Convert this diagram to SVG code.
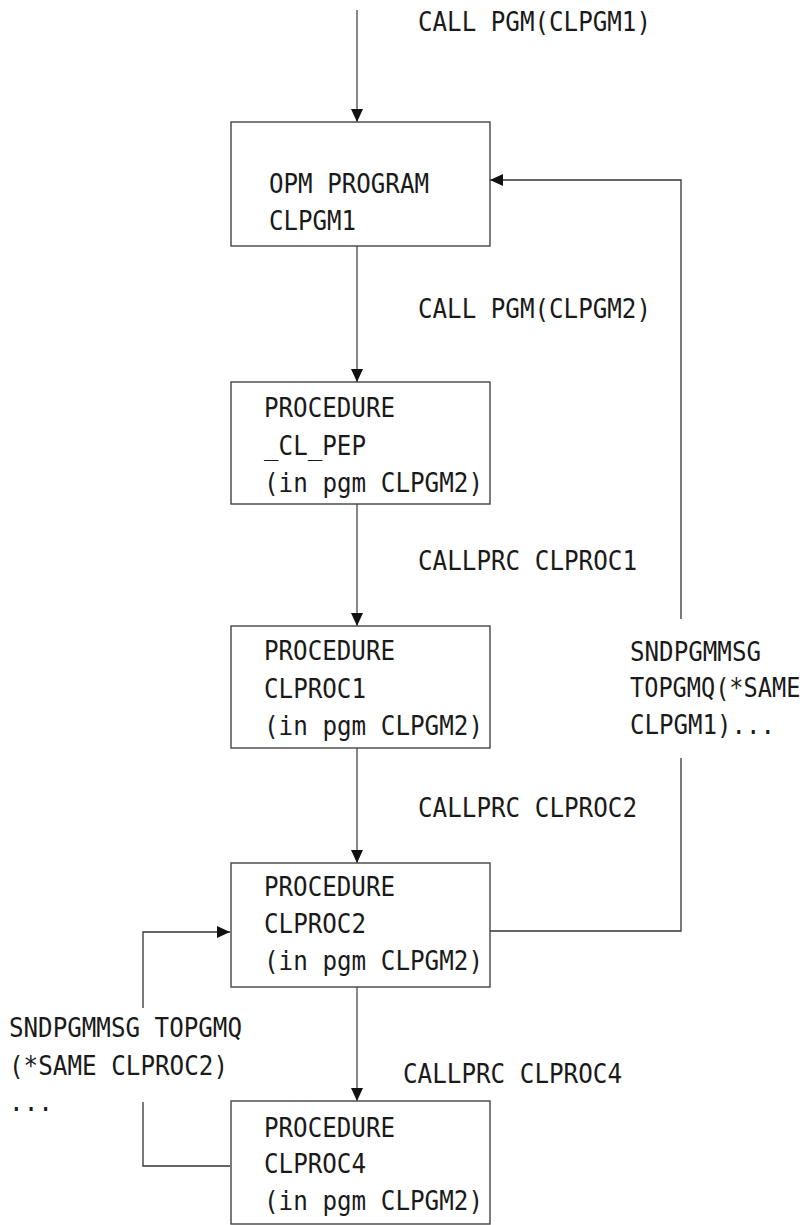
<svg xmlns="http://www.w3.org/2000/svg" width="809" height="1225" viewBox="0 0 809 1225">
<defs>
<marker id="ah" markerUnits="userSpaceOnUse" markerWidth="13" markerHeight="12" refX="13" refY="6" orient="auto">
<path d="M0,0 L13,6 L0,12 z" fill="#111"/>
</marker>
<style>
.box{fill:#fff;stroke:#444;stroke-width:1.4}
.t{font-family:"DejaVu Sans Mono","Liberation Mono",monospace;font-size:26.5px;fill:#1a1a1a}
.c{fill:none;stroke:#333;stroke-width:1.3}
.v{fill:none;stroke:#555;stroke-width:1.4}
</style>
</defs>
<rect width="809" height="1225" fill="#fff"/>
<g id="connectors">
<line class="v" x1="357" y1="10" x2="357" y2="122" marker-end="url(#ah)"/>
<line class="v" x1="357" y1="246" x2="357" y2="382" marker-end="url(#ah)"/>
<line class="v" x1="357" y1="504" x2="357" y2="626" marker-end="url(#ah)"/>
<line class="v" x1="357" y1="748" x2="357" y2="863" marker-end="url(#ah)"/>
<line class="v" x1="357" y1="987" x2="357" y2="1101" marker-end="url(#ah)"/>
<polyline class="c" points="490,931 681,931 681,758"/>
<polyline class="c" points="681,619 681,180 490,180" marker-end="url(#ah)"/>
<polyline class="c" points="230,1166 143,1166 143,1102"/>
<polyline class="c" points="143,1008 143,932 230,932" marker-end="url(#ah)"/>
<text class="t" x="418" y="31" textLength="233" lengthAdjust="spacingAndGlyphs">CALL PGM(CLPGM1)</text>
<text class="t" x="418" y="318" textLength="233" lengthAdjust="spacingAndGlyphs">CALL PGM(CLPGM2)</text>
<text class="t" x="418" y="570" textLength="219" lengthAdjust="spacingAndGlyphs">CALLPRC CLPROC1</text>
<text class="t" x="418" y="817" textLength="219" lengthAdjust="spacingAndGlyphs">CALLPRC CLPROC2</text>
<text class="t" x="403" y="1083" textLength="219" lengthAdjust="spacingAndGlyphs">CALLPRC CLPROC4</text>
<text class="t" x="630" y="661" textLength="131" lengthAdjust="spacingAndGlyphs">SNDPGMMSG</text>
<text class="t" x="0" y="0" transform="translate(630,697) scale(0.89,1)">TOPGMQ(*SAME</text>
<text class="t" x="630" y="734" textLength="145" lengthAdjust="spacingAndGlyphs">CLPGM1)...</text>
<text class="t" x="9" y="1037" textLength="233" lengthAdjust="spacingAndGlyphs">SNDPGMMSG TOPGMQ</text>
<text class="t" x="9" y="1075" textLength="219" lengthAdjust="spacingAndGlyphs">(*SAME CLPROC2)</text>
<text class="t" x="9" y="1111" textLength="44" lengthAdjust="spacingAndGlyphs">...</text>
</g>
<g id="node-clpgm1">
<rect class="box" x="231" y="122" width="259" height="124"/>
<text class="t" x="269" y="193" textLength="160" lengthAdjust="spacingAndGlyphs">OPM PROGRAM</text>
<text class="t" x="269" y="230" textLength="87" lengthAdjust="spacingAndGlyphs">CLPGM1</text>
</g>
<g id="node-clpep">
<rect class="box" x="231" y="382" width="259" height="122"/>
<text class="t" x="264" y="417" textLength="131" lengthAdjust="spacingAndGlyphs">PROCEDURE</text>
<text class="t" x="264" y="455" textLength="102" lengthAdjust="spacingAndGlyphs">_CL_PEP</text>
<text class="t" x="264" y="492" textLength="219" lengthAdjust="spacingAndGlyphs">(in pgm CLPGM2)</text>
</g>
<g id="node-clproc1">
<rect class="box" x="231" y="626" width="259" height="122"/>
<text class="t" x="264" y="660" textLength="131" lengthAdjust="spacingAndGlyphs">PROCEDURE</text>
<text class="t" x="264" y="698" textLength="102" lengthAdjust="spacingAndGlyphs">CLPROC1</text>
<text class="t" x="264" y="735" textLength="219" lengthAdjust="spacingAndGlyphs">(in pgm CLPGM2)</text>
</g>
<g id="node-clproc2">
<rect class="box" x="231" y="863" width="259" height="124"/>
<text class="t" x="264" y="896" textLength="131" lengthAdjust="spacingAndGlyphs">PROCEDURE</text>
<text class="t" x="264" y="933" textLength="102" lengthAdjust="spacingAndGlyphs">CLPROC2</text>
<text class="t" x="264" y="970" textLength="219" lengthAdjust="spacingAndGlyphs">(in pgm CLPGM2)</text>
</g>
<g id="node-clproc4">
<rect class="box" x="231" y="1101" width="259" height="123"/>
<text class="t" x="264" y="1137" textLength="131" lengthAdjust="spacingAndGlyphs">PROCEDURE</text>
<text class="t" x="264" y="1173" textLength="102" lengthAdjust="spacingAndGlyphs">CLPROC4</text>
<text class="t" x="264" y="1210" textLength="219" lengthAdjust="spacingAndGlyphs">(in pgm CLPGM2)</text>
</g>
</svg>
